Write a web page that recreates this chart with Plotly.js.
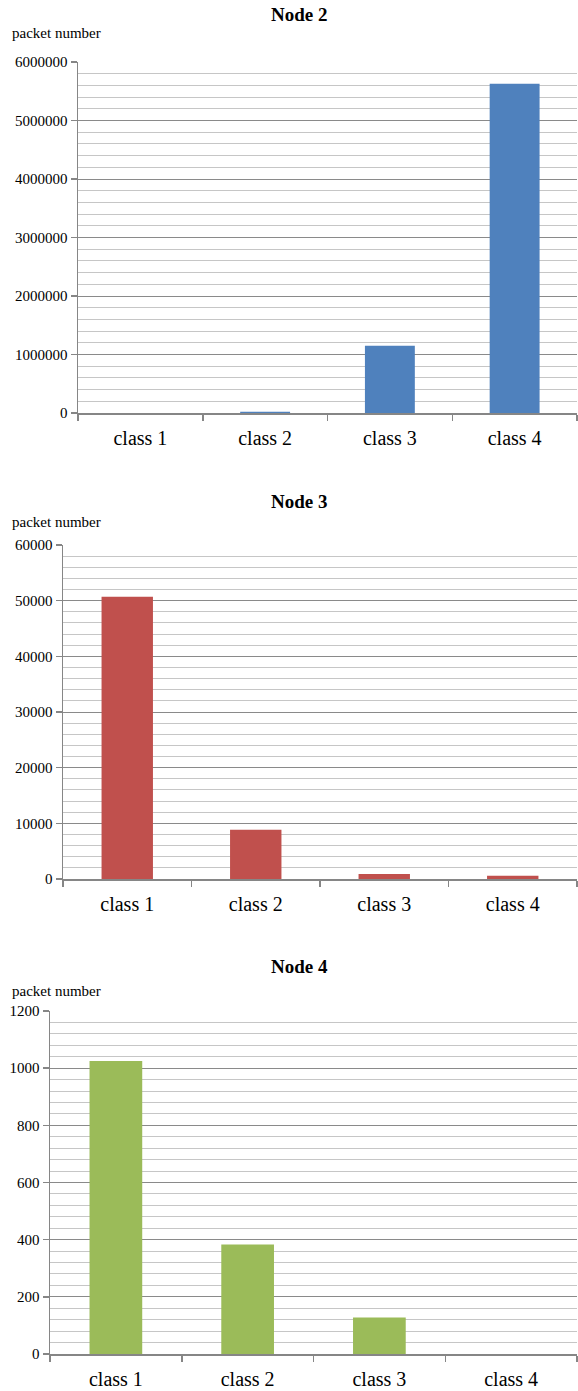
<!DOCTYPE html>
<html>
<head>
<meta charset="utf-8">
<script src="https://cdn.plot.ly/plotly-3.0.1.min.js"></script>
<style>html,body{margin:0;padding:0;background:#fff;}#chart{width:578px;height:1391px;}</style>
</head>
<body>
<div id="chart"></div>
<script>
const categories = ["class 1", "class 2", "class 3", "class 4"];
const node2Values = [0, 20000, 1150000, 5630000];
const node3Values = [50700, 8850, 900, 600];
const node4Values = [1025, 383, 128, 0];
const titles = ["Node 2", "Node 3", "Node 4"];
const yLabel = "packet number";

const W = 578, H = 1391;
const FONT = "Liberation Serif";
const px = (x) => x / W;
const py = (y) => 1 - y / H;

const panels = [
  {vals: node2Values, color: "#4F81BD", left: 78, top: 62, bottom: 413, max: 6000000, dtick: 1000000, minor: 200000, titleY: 14, labelY: 33},
  {vals: node3Values, color: "#C0504D", left: 63, top: 545, bottom: 879, max: 60000, dtick: 10000, minor: 2000, titleY: 501, labelY: 522},
  {vals: node4Values, color: "#9BBB59", left: 50, top: 1011, bottom: 1354, max: 1200, dtick: 200, minor: 40, titleY: 966, labelY: 991}
];

const data = [];
const layout = {
  width: W, height: H,
  margin: {l: 0, r: 0, t: 0, b: 0},
  paper_bgcolor: "#fff", plot_bgcolor: "#fff",
  showlegend: false,
  bargap: 0.6,
  font: {family: FONT, color: "#000"},
  annotations: []
};

panels.forEach((p, i) => {
  const n = i === 0 ? "" : String(i + 1);
  data.push({
    type: "bar", x: categories, y: p.vals,
    xaxis: "x" + n, yaxis: "y" + n,
    marker: {color: p.color, line: {width: 0}},
    hoverinfo: "x+y"
  });
  layout["xaxis" + n] = {
    domain: [px(p.left), px(577)],
    anchor: "y" + n,
    showline: true, linecolor: "#868686", linewidth: 1.5,
    ticks: "outside", tickson: "boundaries", ticklen: 6, tickcolor: "#868686", tickwidth: 1.5,
    tickfont: {family: FONT, size: 20, color: "#000"},
    ticklabelstandoff: 6,
    showgrid: false, fixedrange: true
  };
  layout["yaxis" + n] = {
    domain: [py(p.bottom), py(p.top)],
    anchor: "x" + n,
    range: [0, p.max], dtick: p.dtick, tick0: 0,
    showline: true, linecolor: "#868686", linewidth: 1.5,
    ticks: "outside", ticklen: 6, tickcolor: "#868686", tickwidth: 1.5,
    tickfont: {family: FONT, size: 15, color: "#000"},
    showgrid: true, gridcolor: "#8a8a8a", gridwidth: 1,
    minor: {dtick: p.minor, tick0: 0, showgrid: true, gridcolor: "#c6c6c6", gridwidth: 1, ticks: ""},
    zeroline: false, fixedrange: true,
    exponentformat: "none", tickformat: "d"
  };
  layout.annotations.push({
    xref: "paper", yref: "paper", x: px(299), y: py(p.titleY),
    text: "<b>" + titles[i] + "</b>", showarrow: false,
    xanchor: "center", yanchor: "middle",
    font: {family: FONT, size: 19, color: "#000"}
  });
  layout.annotations.push({
    xref: "paper", yref: "paper", x: px(10), y: py(p.labelY),
    text: yLabel, showarrow: false,
    xanchor: "left", yanchor: "middle",
    font: {family: FONT, size: 15, color: "#000"}
  });
});

Plotly.newPlot("chart", data, layout, {displayModeBar: false, staticPlot: true});
</script>
</body>
</html>
